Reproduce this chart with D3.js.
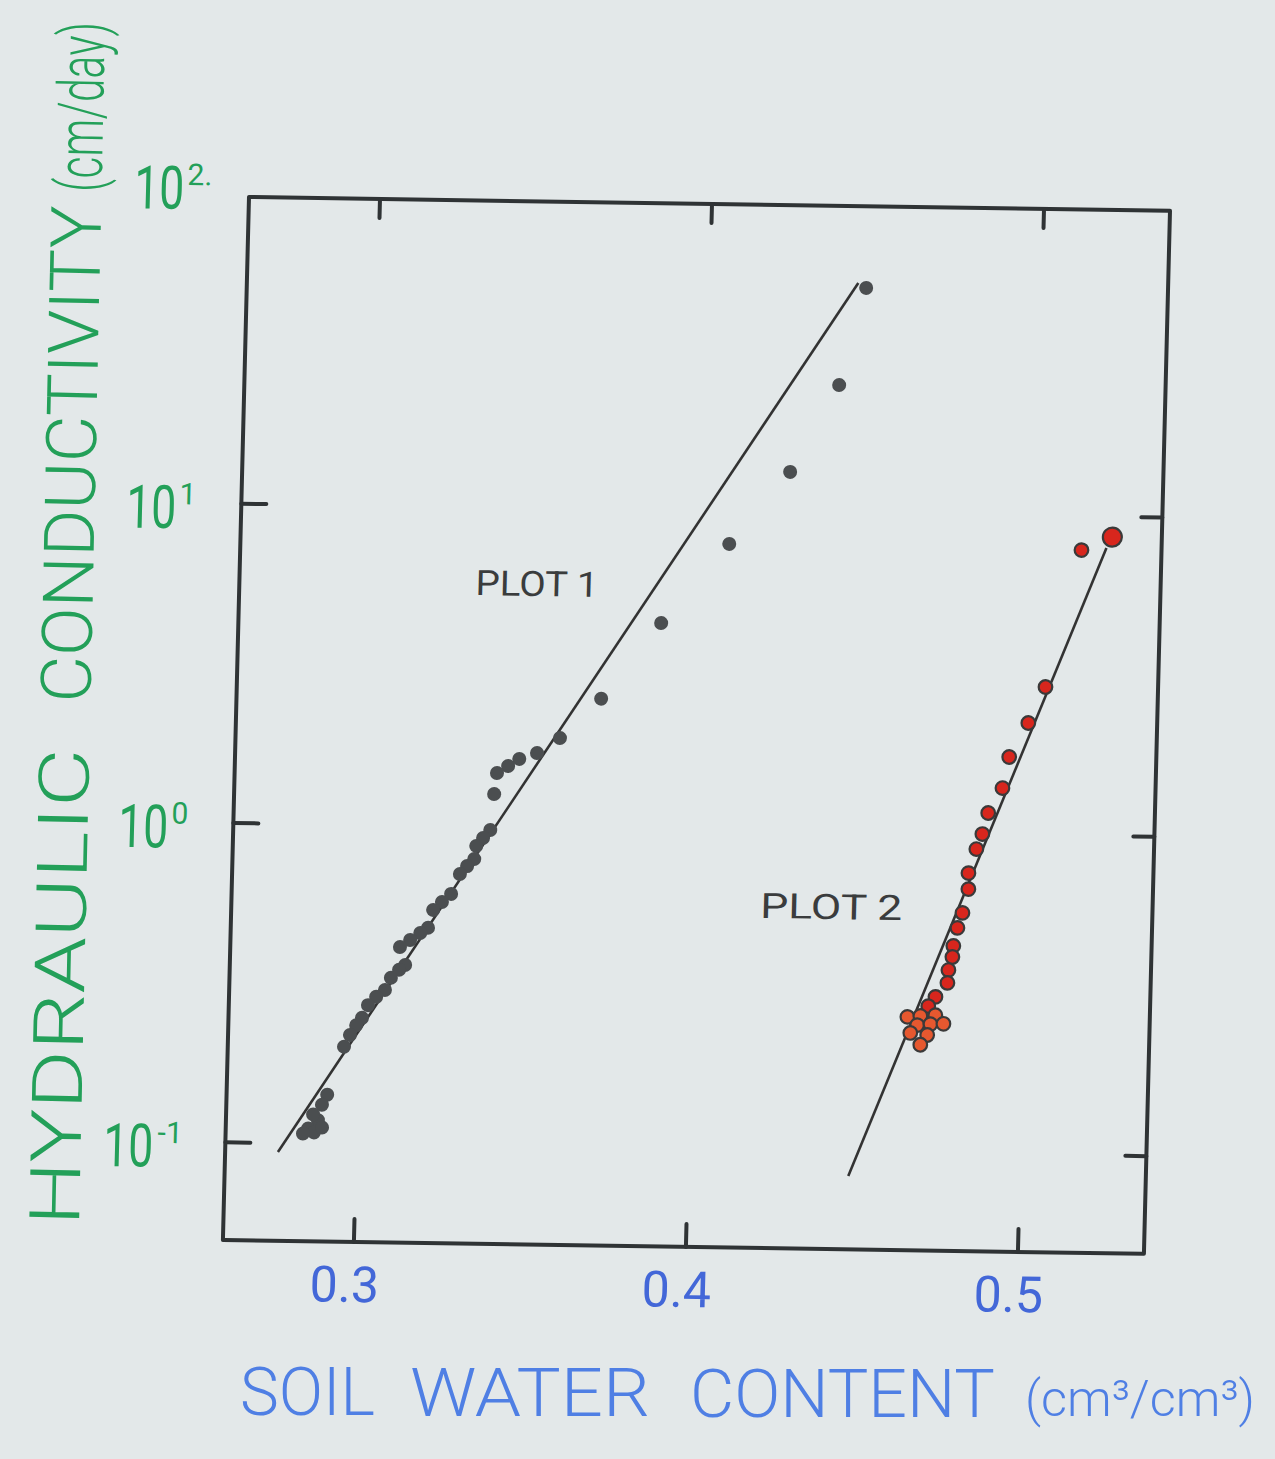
<!DOCTYPE html>
<meta charset="utf-8">
<style>
body { margin: 0; background: #e3e8e9; }
svg { display: block; }
.hand { font-family: Roboto, "DejaVu Sans", sans-serif; }
</style>
<body>
<script src="https://cdnjs.cloudflare.com/ajax/libs/d3/7.8.5/d3.min.js"></script>
<script>

// ---- data ----
// soil water content (cm3/cm3) and hydraulic conductivity (cm/day)
var plot1Theta = [0.4472, 0.4398, 0.4257, 0.4079, 0.3880, 0.3705, 0.3584, 0.3516,
                  0.3463, 0.3430, 0.3397, 0.3390, 0.3381, 0.3360, 0.3340, 0.3335,
                  0.3314, 0.3293, 0.3268, 0.3241, 0.3215, 0.3201, 0.3178, 0.3148,
                  0.3118, 0.3135, 0.3117, 0.3093, 0.3076, 0.3050, 0.3026, 0.3009,
                  0.2992, 0.2974, 0.2957, 0.2910, 0.2895, 0.2884, 0.2869, 0.2855,
                  0.2873, 0.2840, 0.2897];
var plot1K     = [50.5, 25.0, 13.3, 7.86, 4.41, 2.54, 1.905, 1.705,
                  1.631, 1.548, 1.470, 1.263, 0.974, 0.919, 0.867, 0.789,
                  0.749, 0.707, 0.612, 0.577, 0.544, 0.478, 0.460, 0.437,
                  0.415, 0.365, 0.352, 0.332, 0.304, 0.289, 0.272, 0.248,
                  0.235, 0.219, 0.201, 0.142, 0.132, 0.118, 0.123, 0.111,
                  0.108, 0.107, 0.112];

var plot2Theta = [0.5232, 0.5140, 0.5042, 0.4993, 0.4938, 0.4920, 0.4879, 0.4863,
                  0.4846, 0.4824, 0.4825, 0.4809, 0.4795, 0.4784, 0.4782, 0.4771,
                  0.4769, 0.4734, 0.4713, 0.4651, 0.4690, 0.4735, 0.4681, 0.4721,
                  0.4760, 0.4661, 0.4712, 0.4692];
var plot2K     = [8.61, 7.81, 2.90, 2.233, 1.744, 1.393, 1.162, 0.998,
                  0.895, 0.752, 0.670, 0.564, 0.506, 0.444, 0.410, 0.373,
                  0.340, 0.307, 0.287, 0.265, 0.267, 0.269, 0.250, 0.252,
                  0.253, 0.236, 0.233, 0.217];

// fitted lines (end points)
var fit1Theta = [0.2766, 0.4448];
var fit1K     = [0.0935, 52.3];
var fit2Theta = [0.4485, 0.5215];
var fit2K     = [0.0836, 7.95];

var xTicks = [0.3, 0.4, 0.5];
var xTickLabels = ["0.3", "0.4", "0.5"];
var yTicks = [0.1, 1, 10];
var yLabelValues = [100, 10, 1, 0.1];
var yLabelExp = ["2.", "1", "0", "-1"];

var plotLabels = ["PLOT 1", "PLOT 2"];
var plotLabelTheta = [0.3318, 0.4200];
var plotLabelK = [5.29, 0.532];

// ---- layout ----
var width = 1275, height = 1459;
var W = 921, H = 1043;

var svg = d3.select("body").append("svg")
    .attr("width", width)
    .attr("height", height);

svg.append("rect").attr("width", width).attr("height", height).attr("fill", "#e3e8e9");

var x = d3.scaleLinear().domain([0.2607, 0.5381]).range([0, W]);
var y = d3.scaleLog().domain([0.04926, 91.0]).range([H, 0]);

// the scan is slightly skewed, so the whole plot sits in a skewed group
var plot = svg.append("g")
    .attr("transform", "matrix(1,0.015,-0.025,1,249,197)");

var ink = "#2f3335";

function styleAxis(g) {
  g.select(".domain").remove();
  g.selectAll("line").attr("stroke", ink).attr("stroke-width", 4).attr("stroke-linecap", "round");
}

plot.append("g").attr("transform", "translate(0," + H + ")")
    .call(d3.axisBottom(x).tickValues(xTicks).tickSize(-23).tickFormat(""))
    .call(styleAxis);
plot.append("g")
    .call(d3.axisTop(x).tickValues(xTicks).tickSize(-19).tickFormat(""))
    .call(styleAxis);
plot.append("g")
    .call(d3.axisLeft(y).tickValues(yTicks).tickSize(-25).tickFormat(""))
    .call(styleAxis);
plot.append("g").attr("transform", "translate(" + W + ",0)")
    .call(d3.axisRight(y).tickValues(yTicks).tickSize(-21).tickFormat(""))
    .call(styleAxis);

plot.append("rect")
    .attr("width", W).attr("height", H)
    .attr("fill", "none")
    .attr("stroke", ink)
    .attr("stroke-width", 4)
    .attr("stroke-linejoin", "round");

// fitted lines
var line = d3.line()
    .x(function(d) { return x(d[0]); })
    .y(function(d) { return y(d[1]); });

plot.append("path")
    .datum(d3.zip(fit1Theta, fit1K))
    .attr("d", line)
    .attr("fill", "none").attr("stroke", "#333").attr("stroke-width", 2.6);
plot.append("path")
    .datum(d3.zip(fit2Theta, fit2K))
    .attr("d", line)
    .attr("fill", "none").attr("stroke", "#333").attr("stroke-width", 2.6);

// plot 1 points
plot.selectAll(".p1")
    .data(d3.zip(plot1Theta, plot1K))
    .enter().append("circle")
    .attr("class", "p1")
    .attr("cx", function(d) { return x(d[0]); })
    .attr("cy", function(d) { return y(d[1]); })
    .attr("r", 7)
    .attr("fill", "#4b4e50");

// plot 2 points
plot.selectAll(".p2")
    .data(d3.zip(plot2Theta, plot2K))
    .enter().append("circle")
    .attr("class", "p2")
    .attr("cx", function(d) { return x(d[0]); })
    .attr("cy", function(d) { return y(d[1]); })
    .attr("r", function(d, i) { return i === 0 ? 9.5 : 6.8; })
    .attr("fill", function(d) { return d[1] < 0.27 ? "#e6582f" : "#d8261d"; })
    .attr("stroke", "#3a3a3a")
    .attr("stroke-width", 2.2);

// plot labels
plot.selectAll(".plab")
    .data(plotLabels)
    .enter().append("text")
    .attr("class", "hand plab")
    .attr("x", function(d, i) { return x(plotLabelTheta[i]); })
    .attr("y", function(d, i) { return y(plotLabelK[i]); })
    .attr("font-size", 35)
    .attr("textLength", function(d, i) { return i === 0 ? 123 : 142; })
    .attr("lengthAdjust", "spacingAndGlyphs")
    .attr("fill", "#3a3c3d")
    .text(function(d) { return d; });

// x tick labels
plot.selectAll(".xlab")
    .data(xTicks)
    .enter().append("text")
    .attr("class", "hand xlab")
    .attr("x", function(d) { return x(d) - 8; })
    .attr("y", H + 60)
    .attr("text-anchor", "middle")
    .attr("font-size", 50)
    .attr("fill", "#4367d8")
    .text(function(d, i) { return xTickLabels[i]; });

// y tick labels: "10" with a raised exponent
var green = "#23a059";
var yl = plot.selectAll(".ylab")
    .data(yLabelValues)
    .enter().append("g")
    .attr("class", "ylab");
yl.append("text")
    .attr("class", "hand")
    .attr("x", function(d, i) { return i === 3 ? -122 : -115; })
    .attr("y", function(d) { return y(d) + 26; })
    .attr("font-size", 60)
    .attr("textLength", 50)
    .attr("lengthAdjust", "spacingAndGlyphs")
    .attr("fill", green)
    .text("10");
yl.append("text")
    .attr("class", "hand")
    .attr("x", function(d, i) { return i === 3 ? -68 : -62; })
    .attr("y", function(d) { return y(d) + 2; })
    .attr("font-size", 30)
    .attr("fill", green)
    .text(function(d, i) { return yLabelExp[i]; });

// axis titles
var yt = svg.append("g")
    .attr("transform", "translate(79,1226) rotate(-88.76)")
    .attr("class", "hand")
    .attr("fill", green)
    .attr("font-size", 70)
    .attr("font-weight", 300);
yt.append("text").attr("x", 0).attr("textLength", 477).attr("lengthAdjust", "spacingAndGlyphs").text("HYDRAULIC");
yt.append("text").attr("x", 523).attr("textLength", 497).attr("lengthAdjust", "spacingAndGlyphs").text("CONDUCTIVITY");
// squeeze the unit with a transform so its real extent matches what is drawn
var unit = yt.append("text").attr("font-size", 64).text("(cm/day)");
var unitLen = unit.node().getComputedTextLength();
unit.attr("transform", "translate(1034,0) scale(" + (170 / unitLen) + ",1)");

var blue = "#4f7fe4";
var xt = svg.append("g")
    .attr("class", "hand")
    .attr("fill", blue)
    .attr("font-size", 67)
    .attr("font-weight", 300);
xt.append("text").attr("x", 240).attr("y", 1415).attr("textLength", 135).attr("lengthAdjust", "spacingAndGlyphs").text("SOIL");
xt.append("text").attr("x", 410).attr("y", 1416).attr("textLength", 240).attr("lengthAdjust", "spacingAndGlyphs").text("WATER");
xt.append("text").attr("x", 690).attr("y", 1417).attr("textLength", 305).attr("lengthAdjust", "spacingAndGlyphs").text("CONTENT");
xt.append("text").attr("x", 1025).attr("y", 1416).attr("font-size", 50).attr("textLength", 230).attr("lengthAdjust", "spacingAndGlyphs").text("(cm³/cm³)");

</script>
